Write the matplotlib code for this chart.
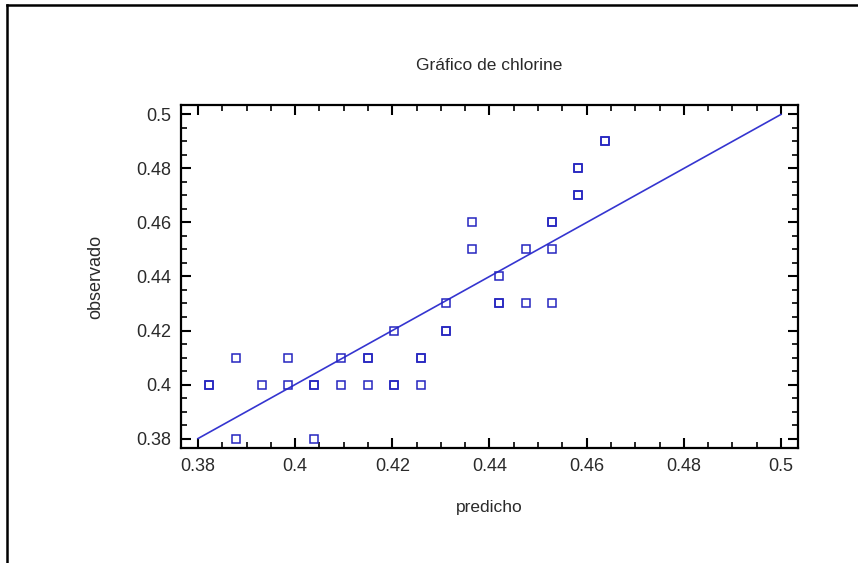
import matplotlib
matplotlib.use("Agg")
import matplotlib.pyplot as plt
from matplotlib.lines import Line2D
from matplotlib.ticker import MultipleLocator

# predicted vs observed chlorine (duplicates drawn twice -> bolder squares)
predicho = [
    0.3823, 0.3823,
    0.3878, 0.3878,
    0.3932,
    0.3985, 0.3985,
    0.4039, 0.4039, 0.4039,
    0.4094, 0.4094,
    0.4149, 0.4149, 0.4149,
    0.4203, 0.4203, 0.4203,
    0.4258, 0.4258, 0.4258,
    0.4311, 0.4311, 0.4311,
    0.4365, 0.4365,
    0.4420, 0.4420, 0.4420,
    0.4475, 0.4475,
    0.4528, 0.4528, 0.4528, 0.4528,
    0.4583, 0.4583, 0.4583, 0.4583,
    0.4638, 0.4638,
]
observado = [
    0.40, 0.40,
    0.41, 0.38,
    0.40,
    0.41, 0.40,
    0.40, 0.40, 0.38,
    0.41, 0.40,
    0.41, 0.41, 0.40,
    0.42, 0.40, 0.40,
    0.41, 0.41, 0.40,
    0.43, 0.42, 0.42,
    0.46, 0.45,
    0.44, 0.43, 0.43,
    0.45, 0.43,
    0.46, 0.46, 0.45, 0.43,
    0.48, 0.48, 0.47, 0.47,
    0.49, 0.49,
]
diag = [0.38, 0.50]

plt.rcParams["font.family"] = ["Liberation Sans", "DejaVu Sans"]

fig = plt.figure(figsize=(8.58, 5.63), dpi=100)
ax = fig.add_axes([0.211, 0.2043, 0.719, 0.6092])

ax.plot(diag, diag, color="#3535d0", linewidth=1.2)
ax.plot(predicho, observado, linestyle="none", marker="s", markersize=5.6,
        markerfacecolor="none", markeredgecolor="#2626c0", markeredgewidth=1.1)

ax.set_xlim(0.3765, 0.5035)
ax.set_ylim(0.3765, 0.5035)
ax.xaxis.set_major_locator(MultipleLocator(0.02))
ax.yaxis.set_major_locator(MultipleLocator(0.02))
ax.xaxis.set_minor_locator(MultipleLocator(0.005))
ax.yaxis.set_minor_locator(MultipleLocator(0.005))
ax.xaxis.set_major_formatter(plt.FuncFormatter(lambda v, p: f"{v:.2f}".rstrip("0")))
ax.yaxis.set_major_formatter(plt.FuncFormatter(lambda v, p: f"{v:.2f}".rstrip("0")))

ax.tick_params(which="both", direction="in", top=True, right=True,
               labelsize=13, colors="black", labelcolor="#2a2a2a")
ax.tick_params(which="major", length=7, width=1.5, pad=7)
ax.tick_params(which="minor", length=4, width=1.2)
for s in ax.spines.values():
    s.set_linewidth(1.6)

ax.set_xlabel("predicho", fontsize=12.5, color="#2a2a2a", labelpad=18)
ax.set_ylabel("observado", fontsize=13, color="#2a2a2a", labelpad=23)
ax.set_title("Gráfico de chlorine", fontsize=12.5, color="#2a2a2a", pad=25)

# frame lines of the cropped screenshot (top and left)
fig.add_artist(Line2D([0.008, 1.0], [0.991, 0.991], transform=fig.transFigure,
                      color="black", linewidth=1.8))
fig.add_artist(Line2D([0.008, 0.008], [0.0, 0.991], transform=fig.transFigure,
                      color="black", linewidth=1.8))

fig.savefig("out.png", dpi=100)
